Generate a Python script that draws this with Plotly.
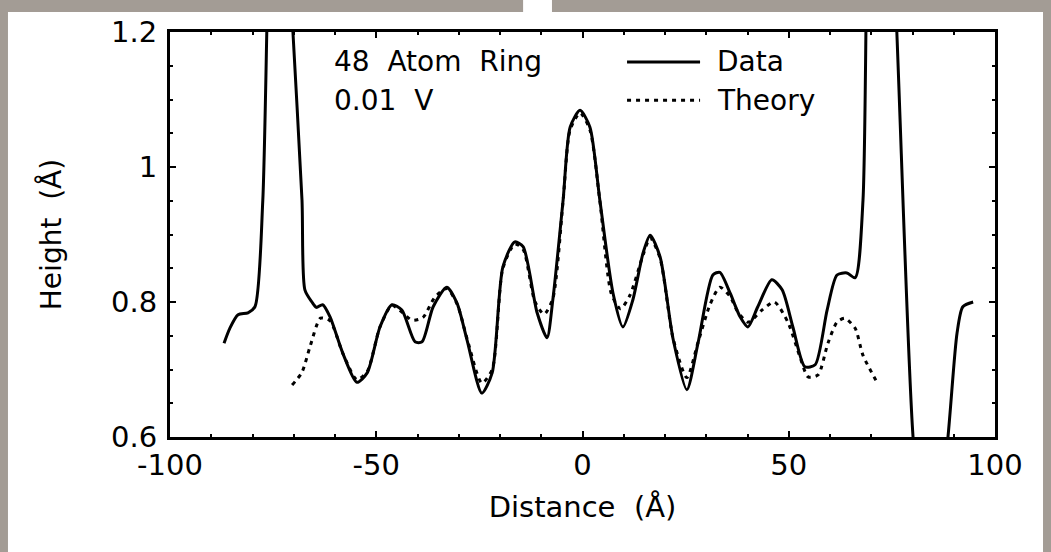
import plotly.graph_objects as go

# ---- data ----
data_x = [-86.9, -85.5, -83.5, -81.1, -79.4, -77.5, -74.5, -70.2, -68.0, -67.3, -65.6, -64.5, -63.0,
          -61.2, -58.1, -54.7, -52.2, -49.1, -46.2, -43.8, -40.6, -38.9, -36.2, -32.9, -30.4, -28.0,
          -24.4, -21.9, -19.3, -16.4, -14.4, -11.0, -8.6, -7.2, -4.7, -3.0, -0.6, 1.8, 4.2, 7.4, 9.8,
          12.2, 14.7, 16.4, 18.8, 22.0, 25.3, 28.0, 31.6, 33.3, 35.8, 38.2, 40.1, 42.5, 45.9, 48.4,
          51.0, 53.9, 56.4, 59.3, 61.7, 64.1, 66.1, 68.0, 70.3, 76.2, 80.1, 84.0, 88.6, 90.8, 92.2, 94.7]
data_y = [0.739, 0.761, 0.781, 0.784, 0.793, 0.951, 1.70, 1.20, 0.951, 0.818, 0.800, 0.792, 0.796,
          0.778, 0.724, 0.681, 0.695, 0.763, 0.796, 0.788, 0.741, 0.741, 0.793, 0.822, 0.798, 0.744,
          0.665, 0.695, 0.852, 0.889, 0.882, 0.784, 0.747, 0.803, 0.951, 1.059, 1.084, 1.059, 0.951,
          0.813, 0.763, 0.803, 0.873, 0.899, 0.867, 0.744, 0.670, 0.739, 0.840, 0.844, 0.813, 0.778,
          0.763, 0.793, 0.833, 0.818, 0.763, 0.704, 0.707, 0.788, 0.840, 0.843, 0.836, 0.951, 2.10,
          1.20, 0.603, 0.35, 0.60, 0.754, 0.793, 0.800]

theory_x = [-70.4, -68.0, -66.0, -63.5, -61.2, -58.1, -54.7, -52.2, -49.1, -46.2, -43.8, -41.3, -38.7,
            -35.8, -32.9, -30.4, -28.0, -24.4, -21.9, -19.3, -16.4, -14.4, -11.5, -9.3, -7.2, -4.7,
            -3.0, -0.6, 1.8, 4.2, 7.0, 9.2, 11.5, 14.7, 16.4, 18.8, 22.0, 25.3, 28.0, 30.9, 33.3,
            35.8, 37.4, 40.1, 43.5, 46.5, 49.8, 52.7, 54.7, 57.1, 59.5, 61.7, 63.6, 66.1, 68.0, 71.6]
theory_y = [0.677, 0.696, 0.735, 0.776, 0.772, 0.724, 0.685, 0.697, 0.763, 0.795, 0.785, 0.773, 0.777,
            0.807, 0.820, 0.797, 0.746, 0.680, 0.700, 0.850, 0.886, 0.878, 0.800, 0.782, 0.805, 0.950,
            1.055, 1.080, 1.055, 0.950, 0.812, 0.790, 0.810, 0.870, 0.895, 0.865, 0.745, 0.688, 0.740,
            0.796, 0.822, 0.808, 0.788, 0.770, 0.788, 0.800, 0.770, 0.719, 0.689, 0.692, 0.739, 0.770,
            0.776, 0.761, 0.721, 0.679]

x_tick_vals = [-100, -50, 0, 50, 100]
x_tick_text = ["-100", "-50", "0", "50", "100"]
y_tick_vals = [0.6, 0.8, 1.0, 1.2]
y_tick_text = ["0.6", "0.8", "1", "1.2"]

FONT = "DejaVu Sans"
NB = "\u00a0"
DOT = "4px,5px"

fig = go.Figure()
fig.add_trace(go.Scatter(x=data_x, y=data_y, mode="lines", name="Data",
                         line=dict(color="black", width=3, shape="spline", smoothing=0.7),
                         showlegend=False))
fig.add_trace(go.Scatter(x=theory_x, y=theory_y, mode="lines", name="Theory",
                         line=dict(color="black", width=3, dash=DOT, shape="spline", smoothing=0.7),
                         showlegend=False))

shapes = [
    # white panel on gray background
    dict(type="rect", xref="paper", yref="paper", x0=-0.1964, x1=1.0582, y0=-0.32, y1=1.0494,
         fillcolor="white", line=dict(width=0), layer="below"),
    dict(type="rect", xref="paper", yref="paper", x0=0.428, x1=0.463, y0=1.0, y1=1.09,
         fillcolor="white", line=dict(width=0), layer="below"),
    # legend keys
    dict(type="line", xref="x", yref="y", x0=10.8, x1=28.5, y0=1.1556, y1=1.1556,
         line=dict(color="black", width=3)),
    dict(type="line", xref="x", yref="y", x0=10.8, x1=28.5, y0=1.099, y1=1.099,
         line=dict(color="black", width=3, dash=DOT)),
]

annotations = [
    dict(text=f"48{NB}{NB}Atom{NB}{NB}Ring", x=-60.7, y=1.1556, xref="x", yref="y",
         xanchor="left", yanchor="middle", showarrow=False, font=dict(family=FONT, size=28, color="black")),
    dict(text=f"0.01{NB}{NB}V", x=-60.7, y=1.099, xref="x", yref="y",
         xanchor="left", yanchor="middle", showarrow=False, font=dict(family=FONT, size=28, color="black")),
    dict(text="Data", x=32.1, y=1.1556, xref="x", yref="y",
         xanchor="left", yanchor="middle", showarrow=False, font=dict(family=FONT, size=28, color="black")),
    dict(text="Theory", x=32.1, y=1.099, xref="x", yref="y",
         xanchor="left", yanchor="middle", showarrow=False, font=dict(family=FONT, size=28, color="black")),
]

axis_common = dict(showline=True, linecolor="black", linewidth=3, mirror="ticks",
                   ticks="inside", ticklen=6, tickwidth=2, tickcolor="black",
                   showgrid=False, zeroline=False,
                   tickfont=dict(family=FONT, size=29, color="black"))

fig.update_layout(
    width=1051, height=552,
    margin=dict(l=170, r=56, t=32, b=115),
    paper_bgcolor="#a39c95", plot_bgcolor="white",
    shapes=shapes, annotations=annotations,
    xaxis=dict(range=[-100, 100], tickmode="array", tickvals=x_tick_vals, ticktext=x_tick_text,
               minor=dict(dtick=10, tick0=0, ticks="inside", ticklen=3, tickwidth=2, tickcolor="black"),
               title=dict(text=f"Distance{NB}{NB}(Å)", font=dict(family=FONT, size=29, color="black"),
                          standoff=16),
               **axis_common),
    yaxis=dict(range=[0.6, 1.2], tickmode="array", tickvals=y_tick_vals, ticktext=y_tick_text,
               minor=dict(dtick=0.05, tick0=0, ticks="inside", ticklen=3, tickwidth=2, tickcolor="black"),
               ticklabelstandoff=4,
               title=dict(text=f"Height{NB}{NB}(Å)", font=dict(family=FONT, size=28, color="black"),
                          standoff=42),
               **axis_common),
)

fig.write_html("out.html", config={"displayModeBar": False},
               post_script="document.body.style.margin='0px';")
